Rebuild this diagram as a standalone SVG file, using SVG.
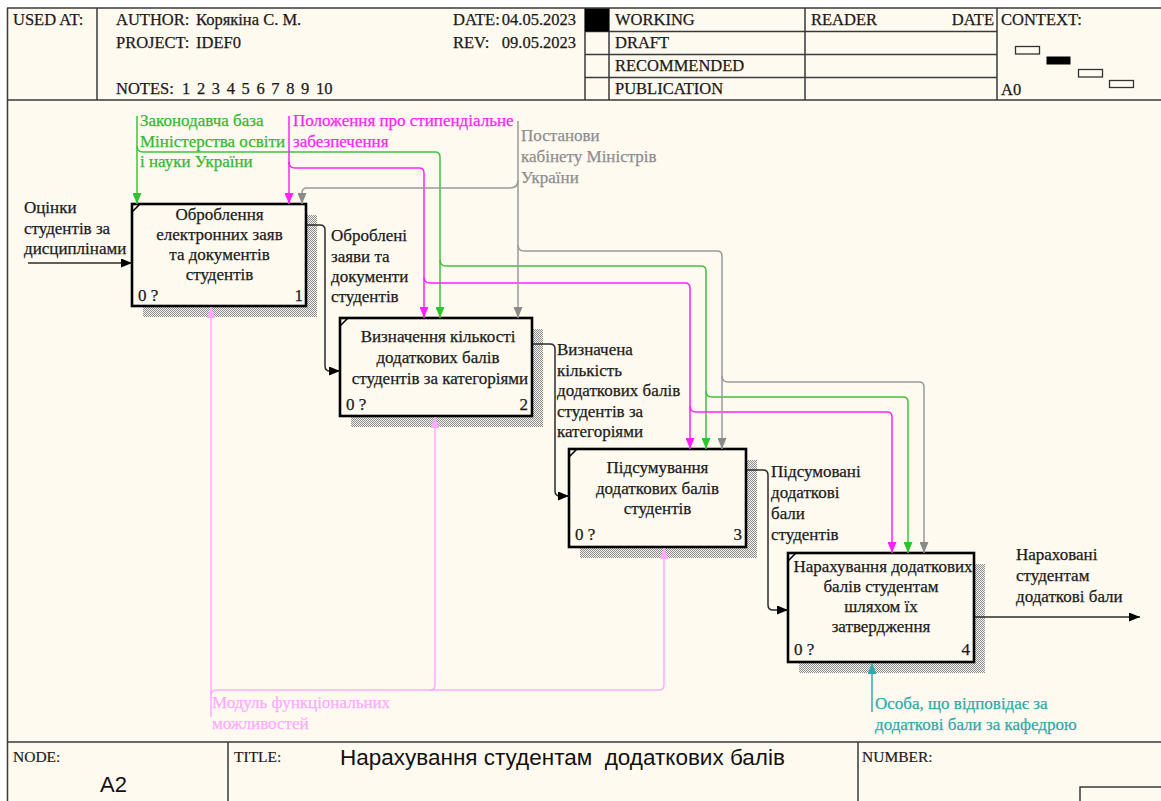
<svg xmlns="http://www.w3.org/2000/svg" width="1161" height="801" viewBox="0 0 1161 801">
  <defs>
    <style>
      .t { font-family: "Liberation Serif", "Times New Roman", serif; font-size: 17px; fill: #1a1a1a; stroke: #1a1a1a; stroke-width: 0.25; }
      .hdr { font-family: "Liberation Serif", "Times New Roman", serif; font-size: 16.5px; fill: #1a1a1a; stroke: #1a1a1a; stroke-width: 0.25; }
      .small { font-family: "Liberation Serif", "Times New Roman", serif; font-size: 15.5px; fill: #1a1a1a; stroke: #1a1a1a; stroke-width: 0.2; }
      .mid { text-anchor: middle; }
      .end { text-anchor: end; }
      .frame { stroke: #3a3a3a; stroke-width: 1.5; fill: none; }
      .box { fill: #fffaf0; stroke: #000; stroke-width: 2.6; }
      .notch { stroke: #000; stroke-width: 1.6; }
      .shadow { fill: url(#hatch); }
      .ln { fill: none; stroke-width: 1.5; }
      .blk { stroke: #2b2b2b; }
      .grn { stroke: #3cc43c; }
      .mag { stroke: #ff22ff; }
      .gry { stroke: #9a9a9a; }
      .pnk { stroke: #ffaaff; }
      .tea { stroke: #2fa9a9; }
      .cg { fill: #33b833; stroke: #33b833; }
      .cm { fill: #ff22ff; stroke: #ff22ff; }
      .cy { fill: #8e8e8e; stroke: #8e8e8e; }
      .cp { fill: #ffaaff; stroke: #ffaaff; }
      .ct { fill: #2fa9a9; stroke: #2fa9a9; }
    </style>
    <!-- fine checker used for the drop shadows -->
    <pattern id="hatch" width="2" height="2" patternUnits="userSpaceOnUse">
      <rect width="2" height="2" fill="#f6f4ee"/>
      <rect width="1" height="1" fill="#8c8c8c"/>
      <rect x="1" y="1" width="1" height="1" fill="#8c8c8c"/>
    </pattern>
    <marker id="aBlk" markerWidth="11" markerHeight="9" refX="11" refY="4.5" orient="auto" markerUnits="userSpaceOnUse"><path d="M0,0 L11,4.5 L0,9 z" fill="#000"/></marker>
    <marker id="aGrn" markerWidth="11" markerHeight="9" refX="11" refY="4.5" orient="auto" markerUnits="userSpaceOnUse"><path d="M0,0 L11,4.5 L0,9 z" fill="#2fc42f"/></marker>
    <marker id="aMag" markerWidth="11" markerHeight="9" refX="11" refY="4.5" orient="auto" markerUnits="userSpaceOnUse"><path d="M0,0 L11,4.5 L0,9 z" fill="#ff22ff"/></marker>
    <marker id="aGry" markerWidth="11" markerHeight="9" refX="11" refY="4.5" orient="auto" markerUnits="userSpaceOnUse"><path d="M0,0 L11,4.5 L0,9 z" fill="#8a8a8a"/></marker>
    <marker id="aPnk" markerWidth="11" markerHeight="9" refX="11" refY="4.5" orient="auto" markerUnits="userSpaceOnUse"><path d="M0,0 L11,4.5 L0,9 z" fill="#ffaaff"/></marker>
    <marker id="aTea" markerWidth="11" markerHeight="9" refX="11" refY="4.5" orient="auto" markerUnits="userSpaceOnUse"><path d="M0,0 L11,4.5 L0,9 z" fill="#2fa9a9"/></marker>
  </defs>

  <!-- page and sheet -->
  <rect width="1161" height="801" fill="#ffffff"/>
  <rect x="7" y="8" width="1154" height="793" fill="#fffaf0"/>

  <!-- header block -->
  <g id="header">
    <path class="frame" d="M7,8 H1161 M7,100 H1161 M7.5,8 V801 M97,8 V100 M585,8 V100 M609,8 V100 M805,8 V100 M997,8 V100 M585,31.5 H997 M585,54.5 H997 M585,77.5 H997"/>
    <rect x="585" y="8.5" width="24" height="23" fill="#000"/>
    <text class="hdr" x="13" y="25">USED AT:</text>
    <text class="hdr" x="116" y="25">AUTHOR:</text>
    <text class="hdr" x="196" y="25">Корякіна С. М.</text>
    <text class="hdr" x="116" y="48">PROJECT:</text>
    <text class="hdr" x="196" y="48">IDEF0</text>
    <text class="hdr" x="116" y="94">NOTES:</text>
    <text class="hdr" x="182" y="94" word-spacing="2.5">1 2 3 4 5 6 7 8 9 10</text>
    <text class="hdr" x="453" y="25">DATE:</text>
    <text class="hdr end" x="576" y="25">04.05.2023</text>
    <text class="hdr" x="453" y="48">REV:</text>
    <text class="hdr end" x="576" y="48">09.05.2023</text>
    <text class="hdr" x="615" y="25">WORKING</text>
    <text class="hdr" x="615" y="48">DRAFT</text>
    <text class="hdr" x="615" y="71">RECOMMENDED</text>
    <text class="hdr" x="615" y="94">PUBLICATION</text>
    <text class="hdr" x="811" y="25">READER</text>
    <text class="hdr end" x="994" y="25">DATE</text>
    <text class="hdr" x="1001" y="25">CONTEXT:</text>
    <text class="hdr" x="1001" y="95">A0</text>
    <rect x="1015.5" y="46.5" width="24" height="7.5" fill="#fffaf0" stroke="#333" stroke-width="1.3"/>
    <rect x="1046.5" y="56.5" width="24" height="8" fill="#000"/>
    <rect x="1078.5" y="69.5" width="24" height="7.5" fill="#fffaf0" stroke="#333" stroke-width="1.3"/>
    <rect x="1109.5" y="80.5" width="24" height="7" fill="#fffaf0" stroke="#333" stroke-width="1.3"/>
  </g>

  <!-- footer block -->
  <g id="footer">
    <path class="frame" d="M7,742 H1161 M228,742 V801 M858,742 V801 M1080,801 V787 H1161"/>
    <text class="small" x="13" y="762">NODE:</text>
    <text x="100" y="792" font-family="Liberation Sans, Arial, sans-serif" font-size="22" fill="#111">A2</text>
    <text class="small" x="234" y="762">TITLE:</text>
    <text x="340" y="765" font-family="Liberation Sans, Arial, sans-serif" font-size="22.5" fill="#111" xml:space="preserve">Нарахування студентам  додаткових балів</text>
    <text class="small" x="862" y="762">NUMBER:</text>
  </g>

  <!-- activity boxes -->
  <g id="box1">
    <rect class="shadow" x="143" y="215" width="174" height="102"/>
    <rect class="box" x="132" y="204" width="174" height="102"/>
    <line class="notch" x1="132" y1="212" x2="140" y2="204"/>
    <text class="t mid" x="219.5" y="220">Оброблення</text>
    <text class="t mid" x="219.5" y="240">електронних заяв</text>
    <text class="t mid" x="219.5" y="260">та документів</text>
    <text class="t mid" x="219.5" y="280">студентів</text>
    <text class="t" x="138" y="301">0 ?</text>
    <text class="t end" x="303" y="301">1</text>
  </g>

  <g id="box2">
    <rect class="shadow" x="351" y="329" width="192" height="98"/>
    <rect class="box" x="340" y="318" width="192" height="98"/>
    <line class="notch" x1="340" y1="326" x2="348" y2="318"/>
    <text class="t mid" x="438" y="342">Визначення кількості</text>
    <text class="t mid" x="438" y="363">додаткових балів</text>
    <text class="t mid" x="440" y="383.5">студентів за категоріями</text>
    <text class="t" x="346" y="410">0 ?</text>
    <text class="t end" x="528" y="410">2</text>
  </g>

  <g id="box3">
    <rect class="shadow" x="580" y="460" width="177" height="98"/>
    <rect class="box" x="569" y="449" width="177" height="98"/>
    <line class="notch" x1="569" y1="457" x2="577" y2="449"/>
    <text class="t mid" x="657.5" y="473">Підсумування</text>
    <text class="t mid" x="657.5" y="494">додаткових балів</text>
    <text class="t mid" x="657.5" y="514">студентів</text>
    <text class="t" x="575" y="540">0 ?</text>
    <text class="t end" x="742" y="540">3</text>
  </g>

  <g id="box4">
    <rect class="shadow" x="799" y="564" width="186" height="109"/>
    <rect class="box" x="788" y="553" width="186" height="109"/>
    <line class="notch" x1="788" y1="561" x2="796" y2="553"/>
    <text class="t mid" x="883" y="572">Нарахування додаткових</text>
    <text class="t mid" x="881" y="592">балів студентам</text>
    <text class="t mid" x="881" y="612">шляхом їх</text>
    <text class="t mid" x="881" y="632">затвердження</text>
    <text class="t" x="794" y="655">0 ?</text>
    <text class="t end" x="970" y="655">4</text>
  </g>

  <!-- connectors -->
  <g id="connectors">
    <!-- input and outputs -->
    <path class="ln blk" d="M28,263 H132" marker-end="url(#aBlk)"/>
    <path class="ln blk" d="M307,225 H320 q5,0 5,5 V366 q0,5 5,5 H340" marker-end="url(#aBlk)"/>
    <path class="ln blk" d="M533,344 H550 q5,0 5,5 V491 q0,5 5,5 H569" marker-end="url(#aBlk)"/>
    <path class="ln blk" d="M747,470 H763 q5,0 5,5 V605 q0,5 5,5 H788" marker-end="url(#aBlk)"/>
    <path class="ln blk" d="M975,617 H1140" marker-end="url(#aBlk)"/>

    <!-- control: legislative base -->
    <path class="ln grn" d="M137,116 V204" marker-end="url(#aGrn)"/>
    <path class="ln grn" d="M137,146 q0,6 6,6 H435 q5,0 5,5 V318" marker-end="url(#aGrn)"/>
    <path class="ln grn" d="M440,260 q0,6 6,6 H701 q5,0 5,5 V449" marker-end="url(#aGrn)"/>
    <path class="ln grn" d="M706,391 q0,6 6,6 H903 q5,0 5,5 V553" marker-end="url(#aGrn)"/>

    <!-- control: scholarship regulation -->
    <path class="ln mag" d="M289,116 V204" marker-end="url(#aMag)"/>
    <path class="ln mag" d="M289,162 q0,6 6,6 H419 q5,0 5,5 V318" marker-end="url(#aMag)"/>
    <path class="ln mag" d="M424,277 q0,6 6,6 H685 q5,0 5,5 V449" marker-end="url(#aMag)"/>
    <path class="ln mag" d="M690,406 q0,6 6,6 H887 q5,0 5,5 V553" marker-end="url(#aMag)"/>

    <!-- control: cabinet resolutions -->
    <path class="ln gry" d="M518,121 V318" marker-end="url(#aGry)"/>
    <path class="ln gry" d="M518,180 q0,8 -8,8 H307 q-5,0 -5,5 V204" marker-end="url(#aGry)"/>
    <path class="ln gry" d="M518,245 q0,6 6,6 H717 q5,0 5,5 V449" marker-end="url(#aGry)"/>
    <path class="ln gry" d="M722,376 q0,6 6,6 H919 q5,0 5,5 V553" marker-end="url(#aGry)"/>

    <!-- mechanism: functional module -->
    <path class="ln pnk" d="M211,717 V307" marker-end="url(#aPnk)"/>
    <path class="ln pnk" d="M211,696 q0,-6 6,-6 H659 q5,0 5,-5 V548" marker-end="url(#aPnk)"/>
    <path class="ln pnk" d="M430,690 q5,0 5,-5 V417" marker-end="url(#aPnk)"/>

    <!-- mechanism: responsible person -->
    <path class="ln tea" d="M872,712 V663" marker-end="url(#aTea)"/>
  </g>

  <!-- connector labels -->
  <g id="labels">
    <text class="t" x="24" y="213">Оцінки</text>
    <text class="t" x="24" y="233.5">студентів за</text>
    <text class="t" x="24" y="254">дисциплінами</text>

    <text class="t" x="331" y="241">Оброблені</text>
    <text class="t" x="331" y="261.5">заяви та</text>
    <text class="t" x="331" y="282">документи</text>
    <text class="t" x="331" y="302">студентів</text>

    <text class="t" x="557" y="355">Визначена</text>
    <text class="t" x="557" y="375.5">кількість</text>
    <text class="t" x="557" y="396">додаткових балів</text>
    <text class="t" x="557" y="416.5">студентів за</text>
    <text class="t" x="557" y="437">категоріями</text>

    <text class="t" x="771" y="477">Підсумовані</text>
    <text class="t" x="771" y="498">додаткові</text>
    <text class="t" x="771" y="519">бали</text>
    <text class="t" x="771" y="540">студентів</text>

    <text class="t" x="1016" y="560">Нараховані</text>
    <text class="t" x="1016" y="581">студентам</text>
    <text class="t" x="1016" y="602">додаткові бали</text>

    <text class="t cg" x="140" y="126">Законодавча база</text>
    <text class="t cg" x="140" y="146.5">Міністерства освіти</text>
    <text class="t cg" x="140" y="167">і науки України</text>

    <text class="t cm" x="293" y="126">Положення про стипендіальне</text>
    <text class="t cm" x="293" y="146.5">забезпечення</text>

    <text class="t cy" x="521" y="141">Постанови</text>
    <text class="t cy" x="521" y="161.5">кабінету Міністрів</text>
    <text class="t cy" x="521" y="182.5">України</text>

    <text class="t cp" x="212" y="708">Модуль функціональних</text>
    <text class="t cp" x="212" y="728.5">можливостей</text>

    <text class="t ct" x="875" y="709">Особа, що відповідає за</text>
    <text class="t ct" x="875" y="730">додаткові бали за кафедрою</text>
  </g>
</svg>
